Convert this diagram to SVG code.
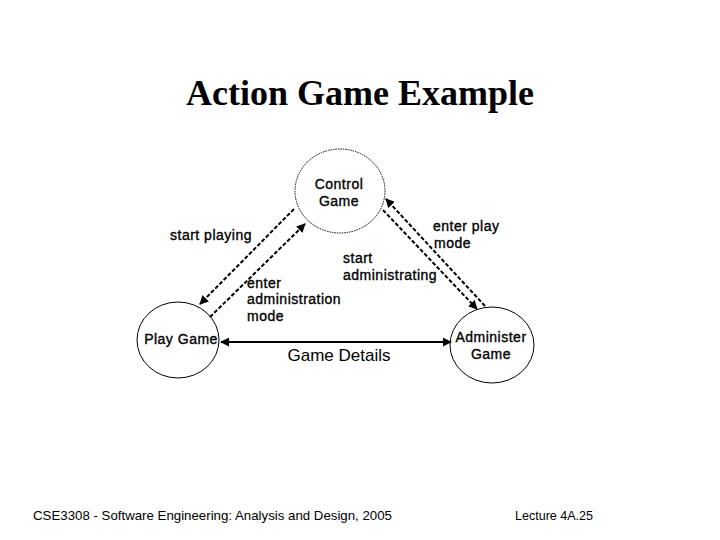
<svg xmlns="http://www.w3.org/2000/svg" width="720" height="540" viewBox="0 0 720 540">
<style>
.lbl{font-family:"Liberation Sans",Arial,sans-serif;font-size:14px;letter-spacing:0.5px;fill:#000;stroke:#000;stroke-width:0.35px}
.node{fill:#fff;stroke:#000;stroke-width:1}
.dash{fill:none;stroke:#000;stroke-width:2;stroke-dasharray:4 2}
.solid{fill:none;stroke:#000;stroke-width:2}
.foot{font-family:"Liberation Sans",Arial,sans-serif;font-size:13px;fill:#000}
</style>
<defs>
<marker id="ah" viewBox="0 0 10 10" refX="9" refY="5" markerWidth="4.5" markerHeight="4.5" orient="auto-start-reverse" markerUnits="strokeWidth">
<path d="M0,0 L10,5 L0,10 Z" fill="#000"/>
</marker>
</defs>
<rect width="720" height="540" fill="#fff"/>
<text x="360" y="105" text-anchor="middle" font-family="Liberation Serif,'Times New Roman',serif" font-size="36" font-weight="bold">Action Game Example</text>

<g id="control-game">
<ellipse cx="340" cy="191" rx="45" ry="42" class="node" style="stroke-dasharray:1.5 1"/>
<text x="339" y="189" class="lbl" text-anchor="middle">Control</text>
<text x="339" y="206" class="lbl" text-anchor="middle">Game</text>
</g>
<g id="play-game">
<ellipse cx="178" cy="340" rx="41" ry="38" class="node"/>
<text x="181" y="344" class="lbl" text-anchor="middle">Play Game</text>
</g>
<g id="administer-game">
<ellipse cx="492" cy="345" rx="42" ry="38" class="node"/>
<text x="491" y="342" class="lbl" text-anchor="middle">Administer</text>
<text x="491" y="359" class="lbl" text-anchor="middle">Game</text>
</g>

<g id="connectors">
<line x1="294" y1="209" x2="200" y2="304" class="dash" marker-end="url(#ah)"/>
<line x1="210" y1="317" x2="305" y2="224" class="dash" marker-end="url(#ah)"/>
<line x1="383" y1="210" x2="477" y2="309" class="dash" marker-end="url(#ah)"/>
<line x1="485" y1="306" x2="386" y2="199" class="dash" marker-end="url(#ah)"/>
<line x1="221" y1="342" x2="451" y2="342" class="solid" marker-start="url(#ah)" marker-end="url(#ah)"/>
</g>

<g id="labels">
<text x="170" y="240" class="lbl">start playing</text>
<text x="433" y="231" class="lbl">enter play</text>
<text x="434" y="248" class="lbl">mode</text>
<text x="343" y="263" class="lbl">start</text>
<text x="343" y="280" class="lbl">administrating</text>
<text x="247" y="288" class="lbl">enter</text>
<text x="247" y="304" class="lbl">administration</text>
<text x="247" y="321" class="lbl">mode</text>
<text x="339" y="361" text-anchor="middle" font-family="Liberation Sans,Arial,sans-serif" font-size="17">Game Details</text>
</g>

<text x="33" y="520" class="foot" textLength="359" lengthAdjust="spacingAndGlyphs">CSE3308 - Software Engineering: Analysis and Design, 2005</text>
<text x="515" y="520" class="foot" textLength="78" lengthAdjust="spacingAndGlyphs">Lecture 4A.25</text>
</svg>
